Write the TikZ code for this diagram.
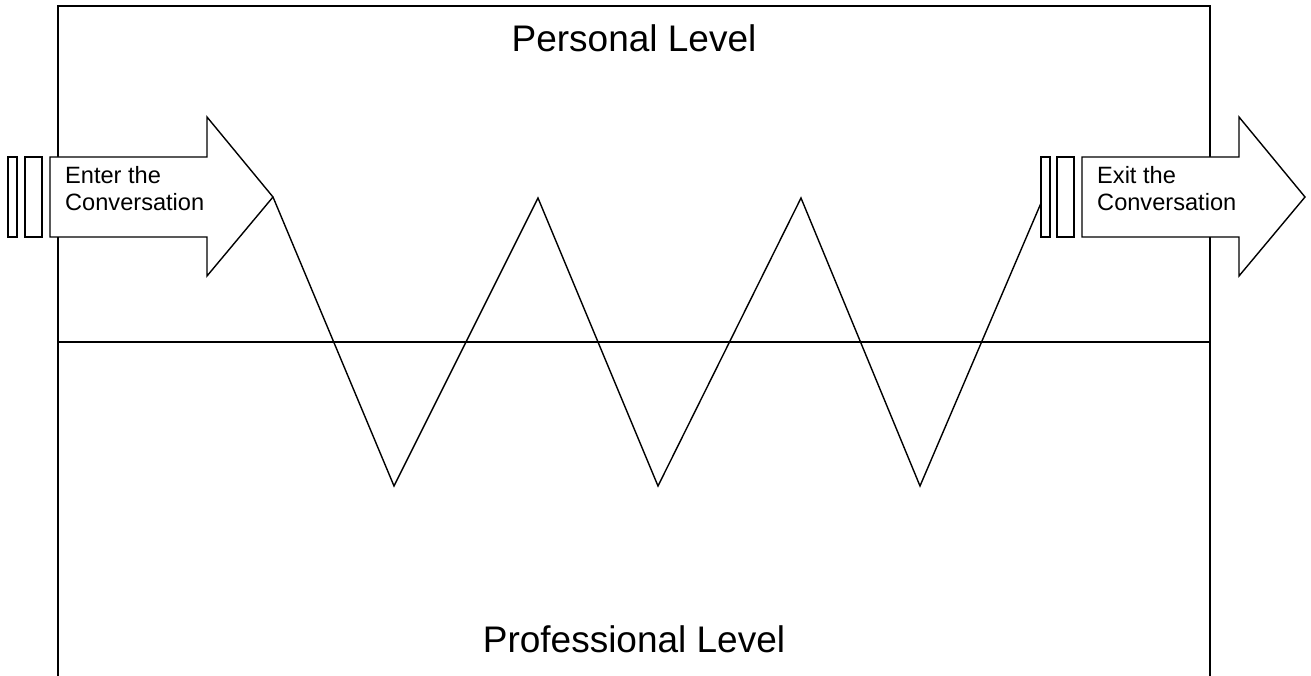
\documentclass[tikz,border=0pt]{standalone}
\usepackage{fontspec}
\setmainfont{Liberation Sans}
\begin{document}
\begin{tikzpicture}[x=1pt,y=-1pt,
  frame/.style={line width=1.7pt, line cap=rect},
  zig/.style={line width=1.4pt, line join=miter},
  arrowshape/.style={draw, fill=white, line width=1.4pt, line join=miter},
  stripe/.style={draw, fill=white, line width=1.4pt},
  levellabel/.style={font=\fontsize{37}{44}\selectfont, inner sep=0pt, anchor=base},
  arrowlabel/.style={font=\fontsize{23.6}{27}\selectfont, inner sep=0pt, anchor=base west, align=left}]
\useasboundingbox (0,0) rectangle (1311,676);
% frame
\coordinate (bl) at (58,676);
\coordinate (tl) at (58,6);
\coordinate (tr) at (1210,6);
\coordinate (br) at (1210,676);
\coordinate (ml) at (58,342);
\coordinate (mr) at (1210,342);
\draw[frame] (bl) -- (tl) -- (tr) -- (br);
\draw[line width=1.4pt] (ml) -- (mr);
% zigzag
\coordinate (p0) at (273,197);
\coordinate (p1) at (394,486);
\coordinate (p2) at (538,198);
\coordinate (p3) at (658,486);
\coordinate (p4) at (801,198);
\coordinate (p5) at (920,486);
\coordinate (p6) at (1041,203);
\draw[zig] (p0) -- (p1) -- (p2) -- (p3) -- (p4) -- (p5) -- (p6);
% enter arrow
\draw[stripe] (8,157) rectangle (17,237);
\draw[stripe] (25,157) rectangle (42,237);
\draw[arrowshape] (50,157) -- (207,157) -- (207,117) -- (273,197) -- (207,276) -- (207,237) -- (50,237) -- cycle;
% exit arrow
\draw[stripe] (1041,157) rectangle (1050,237);
\draw[stripe] (1057,157) rectangle (1074,237);
\draw[arrowshape] (1082,157) -- (1239,157) -- (1239,117) -- (1305,197) -- (1239,276) -- (1239,237) -- (1082,237) -- cycle;
% labels
\node[levellabel] (personal) at (634,52) {Personal Level};
\node[levellabel] (professional) at (634,652) {Professional Level};
\node[arrowlabel] (enter) at (65,211) {Enter the\\Conversation};
\node[arrowlabel] (exit) at (1097,211) {Exit the\\Conversation};
\end{tikzpicture}
\end{document}
